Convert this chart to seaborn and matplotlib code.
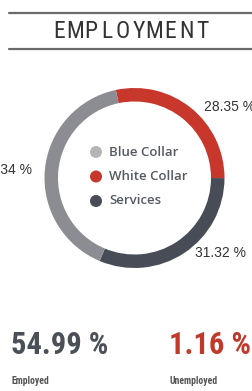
import matplotlib
matplotlib.use("Agg")
import matplotlib.pyplot as plt
from matplotlib import font_manager
import seaborn as sns

# data
categories = ["White Collar", "Services", "Blue Collar"]
shares = [28.35, 31.32, 40.34]
legend_order = ["Blue Collar", "White Collar", "Services"]
employed_pct = 54.99
unemployed_pct = 1.16

ring_colors = {"White Collar": "#c7372c", "Services": "#474c56", "Blue Collar": "#8c8d93"}
dot_colors = {"Blue Collar": "#b4b5b9", "White Collar": "#c7372c", "Services": "#474c56"}

sns.set_theme(style="white")
names = {f.name for f in font_manager.fontManager.ttflist}
narrow = next((n for n in ["Liberation Sans Narrow", "DejaVu Sans Condensed", "Roboto Condensed"] if n in names), "DejaVu Sans")
plt.rcParams['font.family'] = ['DejaVu Sans']

W, H = 252, 391
fig = plt.figure(figsize=(W / 100, H / 100), dpi=100)
fig.patch.set_facecolor("white")

def px(x, y):
    return x / W, 1 - y / H

# header lines and title
line_ax = fig.add_axes([0, 0, 1, 1])
line_ax.set_xlim(0, W)
line_ax.set_ylim(H, 0)
line_ax.axis("off")
line_ax.plot([9, W], [13, 13], color="#6b6b6b", lw=1.6)
line_ax.plot([9, W], [49, 49], color="#6b6b6b", lw=1.6)

title = "EMPLOYMENT"
x0, pitch = 59, 15.9
for i, ch in enumerate(title):
    fig.text(*px(x0 + i * pitch, 32), ch, ha="center", va="center",
             fontsize=17, family=narrow, color="#333333")

# donut
cx, cy, r = 134.5, 178, 90
ax = fig.add_axes([(cx - r) / W, 1 - (cy + r) / H, 2 * r / W, 2 * r / H])
ax.pie(shares, colors=[ring_colors[c] for c in categories], startangle=102,
       counterclock=False, radius=1, wedgeprops=dict(width=0.15, edgecolor="none"))
ax.set_xlim(-1, 1)
ax.set_ylim(-1, 1)
ax.set_aspect("equal")
ax.axis("off")

# slice labels
lab_kw = dict(va="center", fontsize=10, family="Liberation Sans", color="#333333")
fig.text(*px(204, 107), f"{shares[0]:.2f} %", ha="left", **lab_kw)
fig.text(*px(195, 253), f"{shares[1]:.2f} %", ha="left", **lab_kw)
fig.text(*px(32, 170), f"{shares[2]:.2f} %", ha="right", **lab_kw)

# legend inside ring
for i, name in enumerate(legend_order):
    y = 152 + i * 24.5
    line_ax.scatter([96], [y], s=75, color=dot_colors[name], edgecolor="none")
    fig.text(*px(109, y), name, ha="left", va="center", fontsize=9.5,
             family="Open Sans", weight="semibold", color="#555a62")

# bottom stats
fig.text(*px(11, 345), f"{employed_pct:.2f} %", ha="left", va="center", fontsize=22,
         family=narrow, weight="bold", color="#4a4f58")
fig.text(*px(12, 381), "Employed", ha="left", va="center", fontsize=7,
         family=narrow, weight="bold", color="#555555")
fig.text(*px(169, 345), f"{unemployed_pct:.2f} %", ha="left", va="center", fontsize=22,
         family=narrow, weight="bold", color="#c0392b")
fig.text(*px(170, 381), "Unemployed", ha="left", va="center", fontsize=7,
         family=narrow, weight="bold", color="#555555")

fig.savefig("out.png", dpi=100)
